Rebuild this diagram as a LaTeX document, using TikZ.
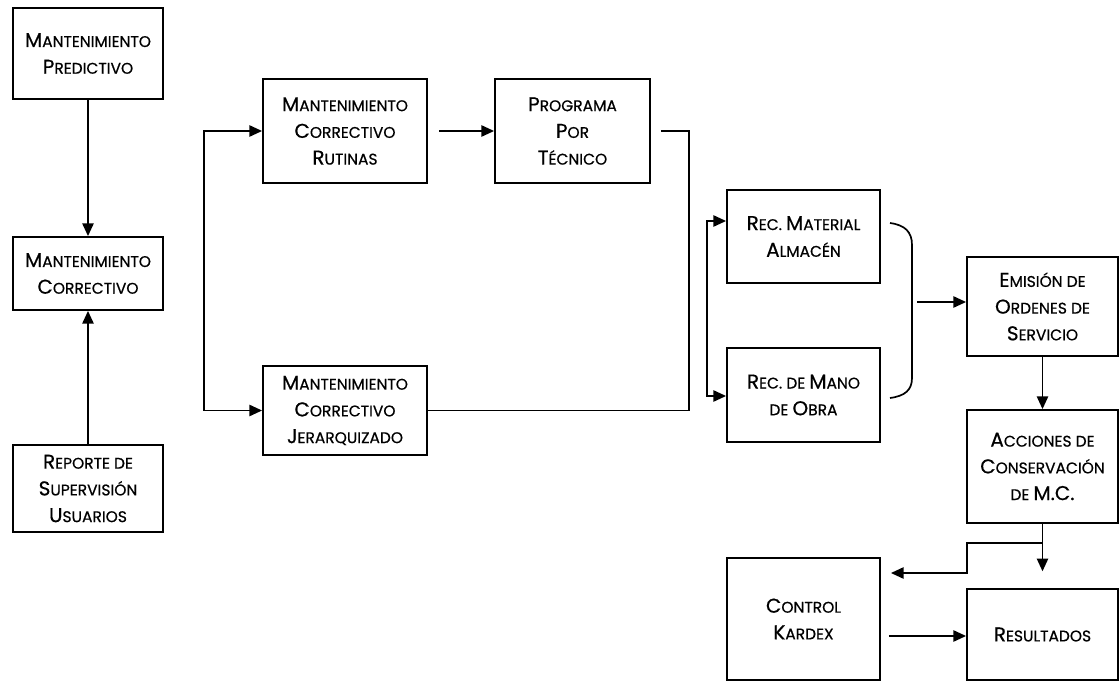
\documentclass[tikz,border=0pt]{standalone}
\usepackage{fontspec}
\setmainfont{Poppins}[FakeBold=0.6]
\usetikzlibrary{arrows.meta}
\newcommand\Ca[1]{{\fontsize{14.2}{12}\selectfont #1}}
\begin{document}
\begin{tikzpicture}[x=0.025cm,y=-0.025cm,
 box/.style={draw, line width=1.3pt, inner sep=0pt, align=center, font=\fontsize{11}{19}\selectfont},
 con/.style={line width=1.2pt},
 arr/.style={con, -{Triangle[length=9pt,width=8pt]}},
 darr/.style={con, {Triangle[length=9pt,width=8pt]}-{Triangle[length=9pt,width=8pt]}}]
\useasboundingbox (0,0) rectangle (1120,683);
\clip (0,0) rectangle (1120,683);
% nodes
\node[box, minimum width=3.75cm, minimum height=2.275cm] (MP) at (88,53.5) {\Ca{M}ANTENIMIENTO\\\Ca{P}REDICTIVO};
\node[box, minimum width=3.75cm, minimum height=1.825cm] (MC) at (88,273.5) {\Ca{M}ANTENIMIENTO\\\Ca{C}ORRECTIVO};
\node[box, minimum width=3.75cm, minimum height=2.175cm] (Rep) at (88,488.5) {\Ca{R}EPORTE DE\\\Ca{S}UPERVISIÓN\\\Ca{U}SUARIOS};
\node[box, minimum width=4.1cm, minimum height=2.6cm] (MCR) at (345,131) {\Ca{M}ANTENIMIENTO\\\Ca{C}ORRECTIVO\\\Ca{R}UTINAS};
\node[box, minimum width=3.875cm, minimum height=2.6cm] (PPT) at (572.5,131) {\Ca{P}ROGRAMA\\\Ca{P}OR\\\Ca{T}ÉCNICO};
\node[box, minimum width=4.1cm, minimum height=2.225cm] (MCJ) at (345,410.5) {\Ca{M}ANTENIMIENTO\\\Ca{C}ORRECTIVO\\\Ca{J}ERARQUIZADO};
\node[box, minimum width=3.825cm, minimum height=2.325cm] (RM) at (803.5,236.5) {\Ca{R}EC. \Ca{M}ATERIAL\\\Ca{A}LMACÉN};
\node[box, minimum width=3.825cm, minimum height=2.35cm] (RMO) at (803.5,395) {\Ca{R}EC. DE \Ca{M}ANO\\DE \Ca{O}BRA};
\node[box, minimum width=3.775cm, minimum height=2.475cm] (EOS) at (1042.5,306.5) {\Ca{E}MISIÓN DE\\\Ca{O}RDENES DE\\\Ca{S}ERVICIO};
\node[box, minimum width=3.775cm, minimum height=2.825cm] (ACC) at (1042.5,466.5) {\Ca{A}CCIONES DE\\\Ca{C}ONSERVACIÓN\\DE \Ca{M.C.}};
\node[box, minimum width=3.825cm, minimum height=3.05cm] (CK) at (803.5,619) {\Ca{C}ONTROL\\\Ca{K}ARDEX};
\node[box, minimum width=3.775cm, minimum height=2.275cm] (RES) at (1042.5,634.5) {\Ca{R}ESULTADOS};
% connectors
\draw[arr] (MP) -- (MC);
\draw[arr] (Rep) -- (MC);
\draw[darr] (MCR.west) -- ++(-58,0) |- (MCJ.west);
\draw[arr, shorten <=0.28cm] (MCR.east) -- (PPT.west);
\coordinate (k) at (689,410.5);
\draw[con] ([xshift=0.25cm]PPT.east) -| (k) -- (MCJ.east);
\coordinate (r1) at (707,221);
\coordinate (r2) at (707,396);
\draw[darr] (RM.west |- r1) -- (r1) -- (r2) -- (RMO.west |- r2);
\coordinate (b1) at (890,223);
\coordinate (b2) at (890,398);
\draw[con] (b1) .. controls (905,225) and (912,232) .. (912,245) -- (912,378) .. controls (912,390) and (905,396) .. (b2);
\coordinate (b) at (917,302);
\draw[arr] (b) -- (EOS.west |- b);
\draw[arr] (EOS) -- (ACC);
\draw[arr, shorten >=0.42cm] (ACC.south) -- (RES.north);
\coordinate (s) at (1042.5,543);
\coordinate (t) at (967,573);
\draw[arr, shorten >=0.25cm] (s) -- (s -| t) -- (t) -- (CK.east |- t);
\coordinate (u) at (880,636);
\draw[arr, shorten <=0.2cm] (CK.east |- u) -- (RES.west |- u);
\end{tikzpicture}
\end{document}
